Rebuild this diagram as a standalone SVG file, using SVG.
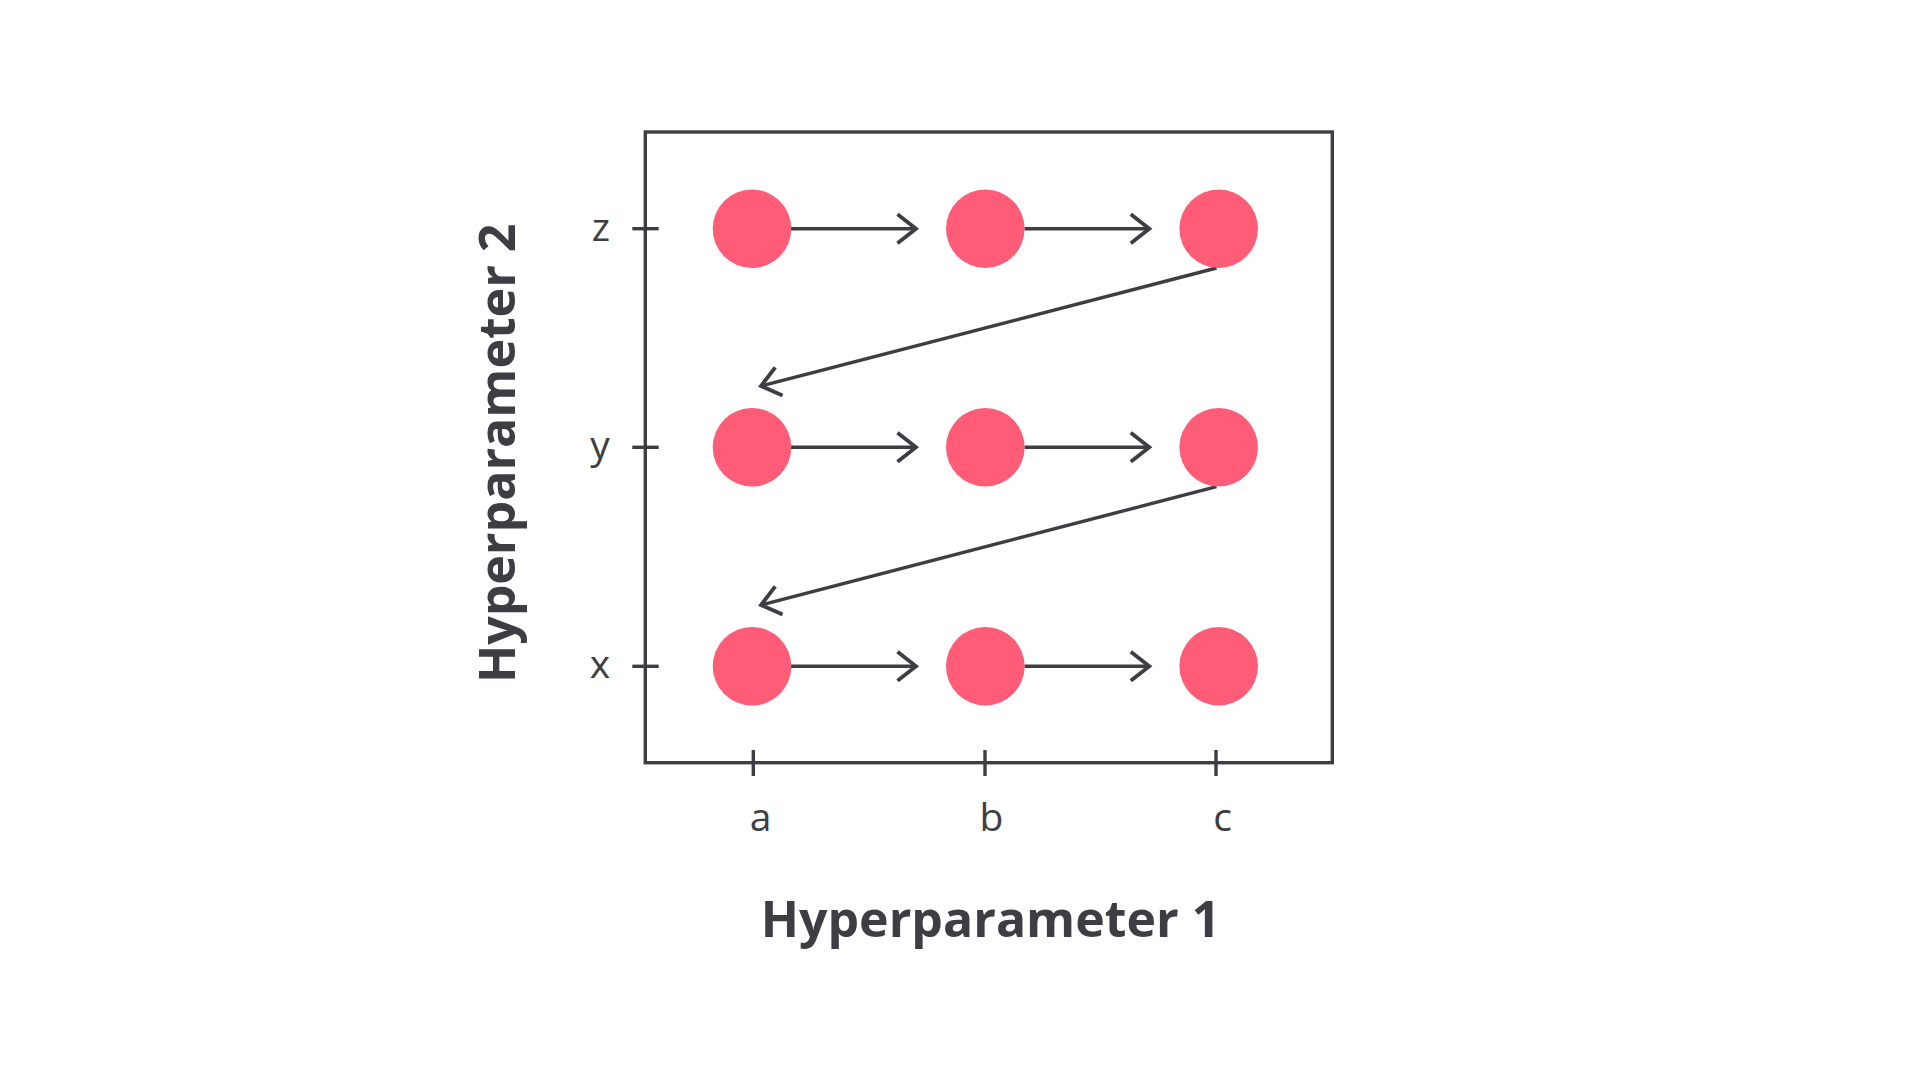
<svg xmlns="http://www.w3.org/2000/svg" width="1921" height="1081" viewBox="0 0 1921 1081">
<style>
.ax{fill:none;stroke:#3d3d44;stroke-width:3.4}
.tk{stroke:#3d3d44;stroke-width:3.4}
.cn{fill:none;stroke:#3d3d44;stroke-width:3.4}
.dot{fill:#ff5d77}
.lbl{font-family:"Open Sans","Liberation Sans",sans-serif;font-size:39px;fill:#3d3d44;text-anchor:middle}
.ttl{font-family:"Open Sans","Liberation Sans",sans-serif;font-size:50px;font-weight:bold;fill:#3d3d44;text-anchor:middle}
</style>
<defs>
<marker id="arr" markerUnits="userSpaceOnUse" markerWidth="40" markerHeight="40" viewBox="-30 -20 40 40" refX="0" refY="0" orient="auto" overflow="visible">
<path d="M-18.5,-14.5 L0,0 L-18.5,14.5" fill="none" stroke="#3d3d44" stroke-width="3.8" stroke-linejoin="miter"/>
</marker>
</defs>
<rect width="1921" height="1081" fill="#ffffff"/>
<g id="frame">
<rect class="ax" x="645.3" y="132" width="687" height="630.7"/>
<line class="tk" x1="632.3" y1="228.7" x2="658.7" y2="228.7"/>
<line class="tk" x1="632.3" y1="447.3" x2="658.7" y2="447.3"/>
<line class="tk" x1="632.3" y1="666.3" x2="658.7" y2="666.3"/>
<line class="tk" x1="753.3" y1="750" x2="753.3" y2="776"/>
<line class="tk" x1="985" y1="750" x2="985" y2="776"/>
<line class="tk" x1="1216" y1="750" x2="1216" y2="776"/>
</g>
<g id="axis-labels">
<text class="lbl" x="601" y="240.7">z</text>
<text class="lbl" x="600" y="458.5">y</text>
<text class="lbl" x="600" y="678.3">x</text>
<text class="lbl" x="760.5" y="830.7">a</text>
<text class="lbl" x="991.5" y="830.7">b</text>
<text class="lbl" x="1222.5" y="830.7">c</text>
<text class="ttl" x="990.5" y="936.7">Hyperparameter 1</text>
<text class="ttl" transform="translate(515,453.3) rotate(-90)">Hyperparameter 2</text>
</g>
<g id="connectors">
<line class="cn" x1="791" y1="228.7" x2="916" y2="228.7" marker-end="url(#arr)"/>
<line class="cn" x1="1024.5" y1="228.7" x2="1149.3" y2="228.7" marker-end="url(#arr)"/>
<line class="cn" x1="1216.5" y1="268" x2="761" y2="386" marker-end="url(#arr)"/>
<line class="cn" x1="791" y1="447.3" x2="916" y2="447.3" marker-end="url(#arr)"/>
<line class="cn" x1="1024.5" y1="447.3" x2="1149.3" y2="447.3" marker-end="url(#arr)"/>
<line class="cn" x1="1216.5" y1="486.7" x2="761" y2="605" marker-end="url(#arr)"/>
<line class="cn" x1="791" y1="666.3" x2="916" y2="666.3" marker-end="url(#arr)"/>
<line class="cn" x1="1024.5" y1="666.3" x2="1149.3" y2="666.3" marker-end="url(#arr)"/>
</g>
<g id="n-a-z"><circle class="dot" cx="752" cy="228.7" r="39.3"/></g>
<g id="n-b-z"><circle class="dot" cx="985.3" cy="228.7" r="39.3"/></g>
<g id="n-c-z"><circle class="dot" cx="1218.7" cy="228.7" r="39.3"/></g>
<g id="n-a-y"><circle class="dot" cx="752" cy="447.3" r="39.3"/></g>
<g id="n-b-y"><circle class="dot" cx="985.3" cy="447.3" r="39.3"/></g>
<g id="n-c-y"><circle class="dot" cx="1218.7" cy="447.3" r="39.3"/></g>
<g id="n-a-x"><circle class="dot" cx="752" cy="666.3" r="39.3"/></g>
<g id="n-b-x"><circle class="dot" cx="985.3" cy="666.3" r="39.3"/></g>
<g id="n-c-x"><circle class="dot" cx="1218.7" cy="666.3" r="39.3"/></g>
</svg>
